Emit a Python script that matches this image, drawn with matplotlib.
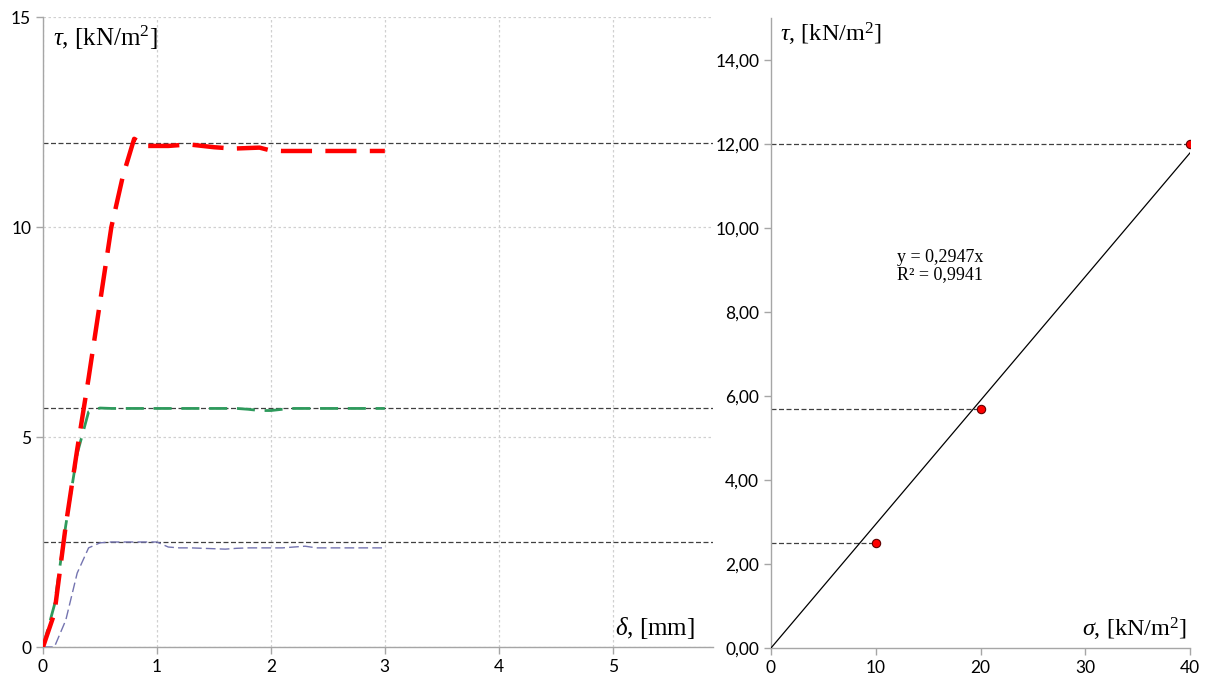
import numpy as np
import matplotlib
matplotlib.use("Agg")
import matplotlib.pyplot as plt
from matplotlib.ticker import FuncFormatter

plt.rcParams['font.family'] = ['Lato', 'DejaVu Sans']
plt.rcParams['mathtext.fontset'] = 'custom'
plt.rcParams['mathtext.rm'] = 'Liberation Serif'
plt.rcParams['mathtext.it'] = 'Liberation Serif:italic'

# shear curves, tau vs displacement
delta = [0.0, 0.1, 0.2, 0.3, 0.4, 0.5, 0.6, 0.7, 0.8, 0.9, 1.0, 1.1, 1.2, 1.3, 1.4, 1.5,
         1.6, 1.7, 1.8, 1.9, 2.0, 2.1, 2.2, 2.3, 2.4, 2.5, 2.6, 2.7, 2.8, 2.9, 3.0]
tau_40 = [0.0, 0.8, 2.9, 4.7, 6.4, 8.2, 10.0, 11.2, 12.1, 11.93, 11.93, 11.93, 11.95, 11.96, 11.93, 11.9,
          11.88, 11.87, 11.88, 11.89, 11.82, 11.81, 11.81, 11.81, 11.81, 11.81, 11.81, 11.81, 11.81, 11.81, 11.81]
tau_20 = [0.0, 1.0, 2.9, 4.6, 5.6, 5.69, 5.68, 5.68, 5.68, 5.68, 5.68, 5.68, 5.68, 5.68, 5.68, 5.68,
          5.68, 5.68, 5.66, 5.63, 5.63, 5.66, 5.68, 5.68, 5.68, 5.68, 5.68, 5.68, 5.68, 5.68, 5.68]
tau_10 = [0.0, 0.0, 0.64, 1.76, 2.36, 2.48, 2.5, 2.5, 2.5, 2.5, 2.5, 2.38, 2.36, 2.36, 2.35, 2.34,
          2.33, 2.35, 2.36, 2.36, 2.36, 2.36, 2.38, 2.40, 2.36, 2.36, 2.36, 2.36, 2.36, 2.36, 2.36]

# peak values (Coulomb line)
sigma = [10, 20, 40]
tau_max = [2.5, 5.7, 12.0]
slope = 0.2947
r2 = 0.9941

serif = 'Liberation Serif'

fig = plt.figure(figsize=(12.1, 6.83), dpi=100)

# left plot
ax1 = fig.add_axes([43/1210, 1-647/683, (713-43)/1210, (647-17)/683])
ax1.set_xlim(0, 5.88)
ax1.set_ylim(0, 15)
ax1.set_xticks([0, 1, 2, 3, 4, 5])
ax1.set_yticks([0, 5, 10, 15])
ax1.grid(True, color='#d0d0d0', linestyle=(0, (2, 2)), linewidth=0.9)
ax1.set_axisbelow(True)

for t in tau_max:
    ax1.plot([0, 5.88], [t, t], color='#404040', linestyle=(0, (4, 2)), linewidth=0.9, zorder=2)

ax1.plot(delta, tau_10, color='#7474b0', linestyle=(0, (7, 3)), linewidth=1.0, zorder=3)
ax1.plot(delta, tau_20, color='#2e9a5c', linestyle=(0, (6.5, 3.5)), linewidth=2.0, zorder=4)
ax1.plot(delta, tau_40, color='#ff0000', linestyle=(0, (7, 3)), linewidth=3.2, zorder=5)

ax1.text(0.09, 14.5, r'$\tau$, [kN/m$^2$]', fontsize=18, family=serif, va='center', ha='left')
ax1.text(5.72, 0.45, r'$\delta$, [mm]', fontsize=18, family=serif, va='center', ha='right')

# right plot
ax2 = fig.add_axes([771/1210, 1-648/683, (1190-771)/1210, (648-18)/683])
ax2.set_xlim(0, 40)
ax2.set_ylim(0, 15)
ax2.set_xticks([0, 10, 20, 30, 40])
ax2.set_yticks(np.arange(0, 15, 2))
ax2.yaxis.set_major_formatter(FuncFormatter(lambda v, p: f"{v:.2f}".replace('.', ',')))

for s, t in zip(sigma, tau_max):
    ax2.plot([0, s], [t, t], color='#404040', linestyle=(0, (4, 2)), linewidth=0.9, zorder=2)

ax2.plot([0, 40], [0, slope * 40], color='black', linewidth=0.9, zorder=3)
ax2.plot(sigma, tau_max, 'o', color='#ff0000', markeredgecolor='#600000',
         markeredgewidth=0.8, markersize=6, zorder=4)

ax2.text(12.0, 9.1, f"y = {slope}x\nR² = {r2}".replace('.', ','), fontsize=13,
         family=serif, va='center', ha='left', linespacing=1.0)
ax2.text(0.9, 14.6, r'$\tau$, [kN/m$^2$]', fontsize=17.5, family=serif, va='center', ha='left')
ax2.text(39.7, 0.45, r'$\sigma$, [kN/m$^2$]', fontsize=17.5, family=serif, va='center', ha='right')

for ax in (ax1, ax2):
    for side in ('top', 'right'):
        ax.spines[side].set_visible(False)
    for side in ('left', 'bottom'):
        ax.spines[side].set_color('#a6a6a6')
        ax.spines[side].set_linewidth(1.0)
    ax.tick_params(colors='#a6a6a6', labelcolor='black', labelsize=12.5, length=5, width=1.0)

fig.savefig("out.png", dpi=100)
